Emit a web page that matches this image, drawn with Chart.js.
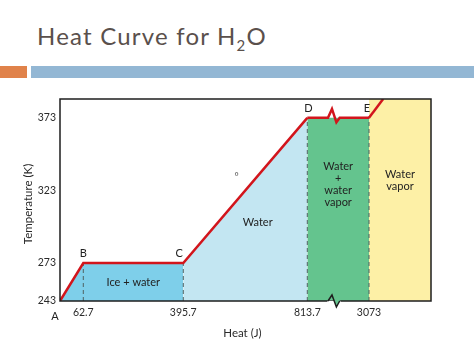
<!DOCTYPE html>
<html>
<head>
<meta charset="utf-8">
<script src="https://cdn.jsdelivr.net/npm/chart.js@4.4.1/dist/chart.umd.min.js"></script>
<style>
  html, body { margin:0; padding:0; background:#fff; }
  body { width:474px; height:355px; position:relative; overflow:hidden; }
  #title { position:absolute; left:37px; top:22px; font-family:Lato, sans-serif; font-size:24px; letter-spacing:1.2px; line-height:1.2; color:#5a504c; white-space:nowrap; }
  #title sub { font-size:15px; position:relative; top:6px; vertical-align:baseline; line-height:0; }
  .bar { position:absolute; top:66px; height:12px; }
  #c { position:absolute; left:0; top:0; }
</style>
</head>
<body>
<div id="title">Heat Curve for H<sub>2</sub>O</div>
<div class="bar" style="left:0;width:27px;background:#e0824a"></div>
<div class="bar" style="left:31px;width:443px;background:#93b7d4"></div>
<canvas id="c" width="474" height="355"></canvas>
<script>
// ---- data ----
const pointNames = ['A', 'B', 'C', 'D', 'E', 'F'];
const heat = [0, 62.7, 395.7, 813.7, 3073, 3102];      // J
const temp = [243, 273, 273, 373, 373, 386];            // K
const xTickValues = [62.7, 395.7, 813.7, 3073];
const xTickLabels = ['62.7', '395.7', '813.7', '3073'];
const yTickValues = [243, 273, 323, 373];
const yTickLabels = ['243', '273', '323', '373'];
const heatMax = 3200;
const tempMax = 386;
const regionNames = ['Ice + water', 'Water', 'Water + water vapor', 'Water vapor'];
const xTitle = 'Heat (J)';
const yTitle = 'Temperature (K)';

// ---- schematic (broken) axes: piecewise-linear scale ----
const axisLayout = {
  x: { knots: [0, 62.7, 395.7, 813.7, 3073, heatMax], fracs: [0, 0.0628, 0.3323, 0.6666, 0.8329, 1] },
  y: { knots: [243, 273, tempMax], fracs: [0, 0.188, 1] }
};
function toFrac(k, f, v) {
  let i = 0;
  while (i < k.length - 2 && v > k[i + 1]) i++;
  return f[i] + (v - k[i]) / (k[i + 1] - k[i]) * (f[i + 1] - f[i]);
}
function fromFrac(k, f, d) {
  let i = 0;
  while (i < f.length - 2 && d > f[i + 1]) i++;
  return k[i] + (d - f[i]) / (f[i + 1] - f[i]) * (k[i + 1] - k[i]);
}
class PiecewiseScale extends Chart.LinearScale {
  getPixelForValue(v) {
    const L = axisLayout[this.axis];
    return this.getPixelForDecimal(toFrac(L.knots, L.fracs, v));
  }
  getValueForPixel(p) {
    const L = axisLayout[this.axis];
    return fromFrac(L.knots, L.fracs, this.getDecimalForPixel(p));
  }
}
PiecewiseScale.id = 'piecewise';
PiecewiseScale.defaults = Chart.LinearScale.defaults;
Chart.register(PiecewiseScale);

const RED = '#d2151c';
const pts = (idx) => idx.map(i => ({ x: heat[i], y: temp[i] }));
const dash = (i) => ({
  data: [{ x: heat[i], y: temp[0] }, { x: heat[i], y: temp[i] }],
  borderColor: '#4f6262', borderWidth: 1, borderDash: [4, 3], pointRadius: 0, fill: false
});

const datasets = [
  { data: pts([0, 1, 2, 3, 4, 5]), borderColor: RED, borderWidth: 2.5, pointRadius: 0, fill: false,
    borderJoinStyle: 'miter',
    segment: { borderColor: ctx => ctx.p0DataIndex === 3 ? 'rgba(0,0,0,0)' : RED } },
  dash(1), dash(2), dash(3), dash(4),
  { data: pts([0, 1, 2]), borderWidth: 0, pointRadius: 0, backgroundColor: '#7ecfea', fill: 'start' },
  { data: pts([2, 3]), borderWidth: 0, pointRadius: 0, backgroundColor: '#c3e6f2', fill: 'start' },
  { data: pts([3, 4]), borderWidth: 0, pointRadius: 0, backgroundColor: '#64c48e', fill: 'start' },
  { data: [{ x: heat[4], y: tempMax }, { x: heatMax, y: tempMax }], borderWidth: 0, pointRadius: 0, backgroundColor: '#fdf0a6', fill: 'start' }
];

const FONT = 'Lato, sans-serif';
const decor = {
  id: 'decor',
  afterDatasetsDraw(chart) {
    const { ctx, chartArea: a, scales: { x, y } } = chart;
    const px = i => x.getPixelForValue(heat[i]);
    const py = i => y.getPixelForValue(temp[i]);
    ctx.save();
    // frame
    ctx.strokeStyle = '#1e1e1e'; ctx.lineWidth = 1.5;
    ctx.strokeRect(a.left, a.top, a.right - a.left, a.bottom - a.top);
    // break on x axis
    const bx = px(3) + 0.4 * (px(4) - px(3));
    const yb = a.bottom;
    ctx.fillStyle = '#ffffff';
    ctx.fillRect(bx - 4.5, yb - 0.2, 13, 2);
    ctx.fillStyle = '#64c48e';
    ctx.beginPath();
    ctx.moveTo(bx - 4, yb); ctx.lineTo(bx, yb - 6); ctx.lineTo(bx + 4.4, yb + 6); ctx.lineTo(bx + 7.7, yb);
    ctx.lineTo(bx + 7.7, yb - 1); ctx.lineTo(bx - 4, yb - 1); ctx.closePath(); ctx.fill();
    ctx.strokeStyle = '#1e1e1e'; ctx.lineWidth = 1.5;
    ctx.beginPath();
    ctx.moveTo(bx - 4, yb); ctx.lineTo(bx, yb - 6); ctx.lineTo(bx + 4.4, yb + 6); ctx.lineTo(bx + 7.7, yb);
    ctx.stroke();
    // break on D-E plateau
    const yd = py(3);
    ctx.strokeStyle = RED; ctx.lineWidth = 2.5; ctx.lineJoin = 'miter';
    ctx.beginPath();
    ctx.moveTo(px(3), yd); ctx.lineTo(bx - 4, yd); ctx.lineTo(bx, yd - 9);
    ctx.lineTo(bx + 4.4, yd + 4.5); ctx.lineTo(bx + 7.7, yd); ctx.lineTo(px(4), yd);
    ctx.stroke();

    // point labels
    ctx.fillStyle = '#222'; ctx.font = '11px ' + FONT;
    ctx.textAlign = 'center'; ctx.textBaseline = 'middle';
    const off = [[-5, 15], [0, -10], [-4, -10], [1, -9], [-2, -9]];
    off.forEach((o, i) => ctx.fillText(pointNames[i], px(i) + o[0], py(i) + o[1]));

    // region labels
    ctx.font = '11px ' + FONT;
    ctx.fillText(regionNames[0], (px(1) + px(2)) / 2, (y.getPixelForValue(temp[0]) + py(1)) / 2);
    ctx.fillText(regionNames[1], px(2) + 0.6 * (px(3) - px(2)), y.getPixelForValue(301));
    const c3 = (px(3) + px(4)) / 2, y3 = y.getPixelForValue(327);
    ['Water', '+', 'water', 'vapor'].forEach((s, i) => ctx.fillText(s, c3, y3 + (i - 1.5) * 11.9));
    const c4 = (px(4) + a.right) / 2, y4 = y.getPixelForValue(330);
    ['Water', 'vapor'].forEach((s, i) => ctx.fillText(s, c4, y4 + (i - 0.5) * 12.3));
    // stray degree mark
    ctx.font = '10px ' + FONT; ctx.fillStyle = '#555';
    ctx.fillText('°', x.getPixelForValue(575), y.getPixelForValue(334) + 2);

    // axis titles
    ctx.fillStyle = '#2a2a2a'; ctx.font = '11.5px ' + FONT;
    ctx.fillText(xTitle, (a.left + a.right) / 2 - 3, 333);
    ctx.translate(28, (a.top + a.bottom) / 2 + 4);
    ctx.rotate(-Math.PI / 2);
    ctx.fillText(yTitle, 0, 0);
    ctx.restore();
  }
};

new Chart(document.getElementById('c'), {
  type: 'line',
  data: { datasets },
  plugins: [decor],
  options: {
    responsive: false, animation: false,
    layout: { padding: { top: 99, right: 43, left: 0, bottom: 0 } },
    plugins: { legend: { display: false }, tooltip: { enabled: false } },
    scales: {
      x: {
        type: 'piecewise', min: 0, max: heatMax,
        grid: { display: false, drawTicks: false }, border: { display: false },
        afterBuildTicks: s => { s.ticks = xTickValues.map(v => ({ value: v })); },
        afterFit: s => { s.height = 54; },
        ticks: { autoSkip: false, maxRotation: 0, padding: 5, color: '#2a2a2a', font: { family: FONT, size: 10.5 },
                 callback: (v, i) => xTickLabels[i] }
      },
      y: {
        type: 'piecewise', min: 243, max: tempMax,
        grid: { display: false, drawTicks: false }, border: { display: false },
        afterBuildTicks: s => { s.ticks = yTickValues.map(v => ({ value: v })); },
        afterFit: s => { s.width = 60; },
        ticks: { autoSkip: false, padding: 4, color: '#2a2a2a', font: { family: FONT, size: 10.5 },
                 callback: (v, i) => yTickLabels[i] }
      }
    }
  }
});
</script>
</body>
</html>
